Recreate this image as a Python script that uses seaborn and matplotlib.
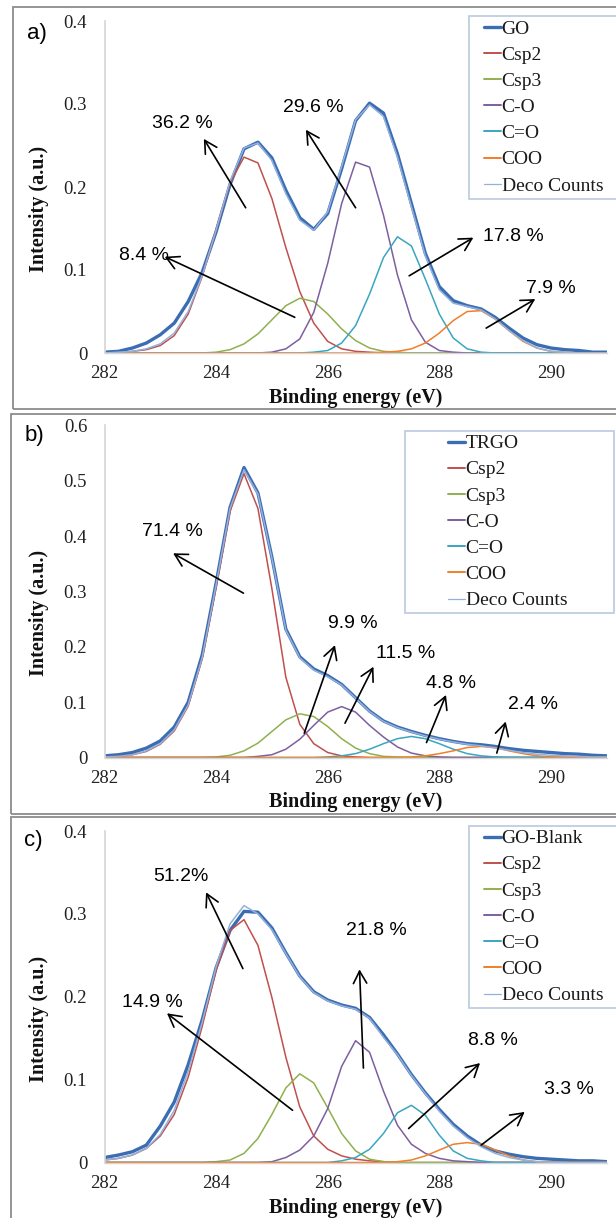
import numpy as np
import pandas as pd
import matplotlib
matplotlib.use("Agg")
import matplotlib.pyplot as plt
import seaborn as sns
from matplotlib.patches import Rectangle
from matplotlib.lines import Line2D

# ---------------- data ----------------
energy = np.arange(282.0, 291.001, 0.25)  # binding energy grid, eV (37 points)
x_ticks = [282, 284, 286, 288, 290]

# panel a) GO
go_a = [0.001, 0.002, 0.006, 0.012, 0.022, 0.036, 0.062, 0.097, 0.146, 0.203, 0.246, 0.254, 0.235,
        0.196, 0.163, 0.149, 0.168, 0.222, 0.280, 0.301, 0.289, 0.240, 0.180, 0.120, 0.080, 0.063,
        0.057, 0.053, 0.043, 0.030, 0.018, 0.010, 0.006, 0.004, 0.003, 0.001, 0.001]
deco_a = [0.000, 0.001, 0.002, 0.005, 0.011, 0.024, 0.050, 0.093, 0.148, 0.207, 0.247, 0.253, 0.232,
          0.192, 0.160, 0.148, 0.170, 0.225, 0.281, 0.299, 0.285, 0.236, 0.176, 0.117, 0.076, 0.060,
          0.056, 0.052, 0.041, 0.027, 0.015, 0.006, 0.002, 0.001, 0.000, 0.000, 0.000]
csp2_a = [0, 0, 0.002, 0.004, 0.009, 0.021, 0.047, 0.092, 0.149, 0.205, 0.236, 0.229, 0.186, 0.127,
          0.074, 0.036, 0.014, 0.005, 0.002, 0.001] + [0] * 17
csp3_a = [0] * 8 + [0.001, 0.004, 0.011, 0.023, 0.040, 0.057, 0.066, 0.062, 0.047, 0.029, 0.015,
                    0.006, 0.002, 0.001] + [0] * 15
co_a = [0] * 12 + [0.001, 0.005, 0.017, 0.049, 0.108, 0.180, 0.230, 0.224, 0.166, 0.094, 0.040,
                   0.013, 0.003, 0.001] + [0] * 11
cdo_a = [0] * 15 + [0.001, 0.003, 0.012, 0.033, 0.071, 0.115, 0.140, 0.129, 0.089, 0.047, 0.018,
                    0.005, 0.001] + [0] * 9
coo_a = [0] * 20 + [0.001, 0.002, 0.005, 0.012, 0.024, 0.039, 0.050, 0.051, 0.041, 0.027, 0.014,
                    0.006, 0.002, 0.001] + [0] * 3

# panel b) TRGO
go_b = [0.003, 0.005, 0.009, 0.017, 0.030, 0.055, 0.100, 0.185, 0.315, 0.452, 0.524, 0.478, 0.362,
        0.232, 0.182, 0.160, 0.148, 0.132, 0.108, 0.084, 0.066, 0.055, 0.047, 0.040, 0.034, 0.029,
        0.025, 0.023, 0.020, 0.016, 0.013, 0.011, 0.009, 0.007, 0.006, 0.004, 0.003]
deco_b = [0.001, 0.002, 0.005, 0.012, 0.025, 0.050, 0.095, 0.180, 0.312, 0.450, 0.520, 0.476, 0.360,
          0.230, 0.180, 0.158, 0.146, 0.131, 0.107, 0.083, 0.065, 0.054, 0.046, 0.039, 0.033, 0.028,
          0.024, 0.021, 0.017, 0.013, 0.009, 0.006, 0.004, 0.003, 0.002, 0.001, 0.001]
csp2_b = [0.001, 0.002, 0.005, 0.011, 0.024, 0.048, 0.093, 0.178, 0.308, 0.445, 0.513, 0.450, 0.305,
          0.145, 0.060, 0.025, 0.009, 0.003, 0.001] + [0] * 18
csp3_b = [0] * 8 + [0.001, 0.004, 0.012, 0.026, 0.047, 0.068, 0.079, 0.074, 0.056, 0.034, 0.017,
                    0.007, 0.002, 0.001] + [0] * 15
co_b = [0] * 11 + [0.002, 0.005, 0.015, 0.033, 0.058, 0.082, 0.092, 0.082, 0.058, 0.037, 0.019,
                   0.008, 0.003, 0.001] + [0] * 12
cdo_b = [0] * 16 + [0.001, 0.003, 0.007, 0.015, 0.025, 0.034, 0.038, 0.034, 0.025, 0.015, 0.007,
                    0.003, 0.001] + [0] * 8
coo_b = [0] * 22 + [0.001, 0.003, 0.007, 0.012, 0.018, 0.020, 0.018, 0.012, 0.007, 0.003,
                    0.001] + [0] * 4

# panel c) GO-Blank
go_c = [0.006, 0.009, 0.013, 0.021, 0.044, 0.073, 0.118, 0.172, 0.235, 0.280, 0.303, 0.302, 0.283,
        0.253, 0.225, 0.206, 0.196, 0.190, 0.186, 0.175, 0.154, 0.131, 0.106, 0.084, 0.064, 0.046,
        0.032, 0.021, 0.014, 0.010, 0.007, 0.005, 0.004, 0.003, 0.002, 0.002, 0.001]
deco_c = [0.003, 0.005, 0.009, 0.017, 0.034, 0.063, 0.110, 0.169, 0.236, 0.288, 0.310, 0.300, 0.281,
          0.252, 0.224, 0.205, 0.195, 0.189, 0.185, 0.174, 0.151, 0.130, 0.105, 0.083, 0.062, 0.044,
          0.030, 0.019, 0.011, 0.006, 0.003, 0.001, 0, 0, 0, 0, 0]
csp2_c = [0.003, 0.005, 0.009, 0.017, 0.032, 0.058, 0.103, 0.164, 0.232, 0.280, 0.293, 0.262, 0.199,
          0.127, 0.067, 0.032, 0.016, 0.008, 0.004, 0.002, 0.001] + [0] * 16
csp3_c = [0] * 8 + [0.001, 0.003, 0.011, 0.029, 0.058, 0.090, 0.107, 0.096, 0.066, 0.035, 0.014,
                    0.004, 0.001] + [0] * 16
co_c = [0] * 12 + [0.001, 0.006, 0.015, 0.032, 0.065, 0.116, 0.147, 0.133, 0.086, 0.045, 0.022,
                   0.011, 0.005, 0.002, 0.001] + [0] * 10
cdo_c = [0] * 17 + [0.002, 0.006, 0.016, 0.035, 0.060, 0.069, 0.057, 0.033, 0.014, 0.005,
                    0.002] + [0] * 9
coo_c = [0] * 21 + [0.001, 0.003, 0.008, 0.015, 0.022, 0.024, 0.022, 0.015, 0.008, 0.003,
                    0.001] + [0] * 5

component_names = ["Csp2", "Csp3", "C-O", "C=O", "COO"]

# annotations: percentage labels, label position, arrow tail, arrow head (data units)
pct_a = ["36.2 %", "8.4 %", "29.6 %", "17.8 %", "7.9 %"]
pct_a_txt = [(283.39, 0.277), (282.70, 0.118), (285.75, 0.296), (289.32, 0.140), (290.00, 0.078)]
pct_a_tail = [(284.53, 0.175), (285.41, 0.043), (286.50, 0.175), (287.46, 0.093), (288.84, 0.030)]
pct_a_head = [(283.78, 0.258), (283.08, 0.116), (285.61, 0.269), (288.61, 0.139), (289.72, 0.065)]

pct_b = ["71.4 %", "9.9 %", "11.5 %", "4.8 %", "2.4 %"]
pct_b_txt = [(283.21, 0.408), (286.45, 0.243), (287.40, 0.188), (288.21, 0.134), (289.68, 0.095)]
pct_b_tail = [(284.49, 0.297), (285.58, 0.044), (286.31, 0.062), (287.77, 0.027), (289.03, 0.008)]
pct_b_head = [(283.23, 0.369), (286.13, 0.203), (286.82, 0.164), (288.12, 0.113), (289.19, 0.065)]

pct_c = ["51.2%", "14.9 %", "21.8 %", "8.8 %", "3.3 %"]
pct_c_txt = [(283.37, 0.345), (282.85, 0.1935), (286.88, 0.280), (288.96, 0.147), (290.32, 0.088)]
pct_c_tail = [(284.48, 0.234), (285.37, 0.063), (286.64, 0.114), (287.45, 0.041), (288.75, 0.021)]
pct_c_head = [(283.82, 0.326), (283.12, 0.180), (286.57, 0.233), (288.73, 0.120), (289.53, 0.061)]

# ---------------- style ----------------
sns.set_theme(style="white")
plt.rcParams["font.family"] = ["Liberation Serif", "DejaVu Serif"]
SANS = ["Liberation Sans", "DejaVu Sans"]

colors = {"total": "#3b6db3", "Csp2": "#c0504d", "Csp3": "#8fb04f", "C-O": "#7d5fa0",
          "C=O": "#3aa5c0", "COO": "#f07f2a", "Deco Counts": "#93b1dc"}
widths = {"total": 2.4, "Csp2": 1.1, "Csp3": 1.1, "C-O": 1.1, "C=O": 1.1, "COO": 1.1,
          "Deco Counts": 1.1}

W, H = 616, 1218
fig = plt.figure(figsize=(W / 100, H / 100), dpi=100)


def fx(px):
    return px / W


def fy(py):
    return 1 - py / H


panels = [
    dict(tag="a)", total="GO", vals=[go_a, csp2_a, csp3_a, co_a, cdo_a, coo_a, deco_a], ymax=0.4,
         yticks=[0, 0.1, 0.2, 0.3, 0.4], top=21, bottom=353, frame=(12.7, 7, 409), label=(36.5, 33.5),
         box=(469, 16, 199), legx=484, pct=pct_a, txt=pct_a_txt, tail=pct_a_tail, head=pct_a_head),
    dict(tag="b)", total="TRGO", vals=[go_b, csp2_b, csp3_b, co_b, cdo_b, coo_b, deco_b], ymax=0.6,
         yticks=[0, 0.1, 0.2, 0.3, 0.4, 0.5, 0.6], top=425.5, bottom=757.5, frame=(11, 414, 814),
         label=(34, 435.5), box=(404.7, 430.7, 612.7), legx=448, pct=pct_b, txt=pct_b_txt,
         tail=pct_b_tail, head=pct_b_head, boxright=613.8),
    dict(tag="c)", total="GO-Blank", vals=[go_c, csp2_c, csp3_c, co_c, cdo_c, coo_c, deco_c],
         ymax=0.4, yticks=[0, 0.1, 0.2, 0.3, 0.4], top=831, bottom=1162.5, frame=(11, 817, 1240),
         label=(33.5, 840.5), box=(468.8, 825.7, 1007.7), legx=484, pct=pct_c, txt=pct_c_txt,
         tail=pct_c_tail, head=pct_c_head),
]

left_px, right_px = 104.5, 606.7

for p in panels:
    # panel frame
    fl, ft, fb = p["frame"]
    fig.add_artist(Rectangle((fx(fl), fy(fb)), 1.2, (fb - ft) / H, transform=fig.transFigure,
                             fill=False, ec="#8c8c8c", lw=1.3))
    ax = fig.add_axes([fx(left_px), fy(p["bottom"]), (right_px - left_px) / W,
                       (p["bottom"] - p["top"]) / H])
    ax.set_facecolor("none")

    keys = ["total"] + component_names + ["Deco Counts"]
    frames = []
    for k, v in zip(keys, p["vals"]):
        frames.append(pd.DataFrame({"energy": energy, "intensity": v, "series": k}))
    df = pd.concat(frames, ignore_index=True)
    sns.lineplot(data=df, x="energy", y="intensity", hue="series", size="series",
                 hue_order=keys, size_order=keys, palette=colors, sizes=widths,
                 legend=False, sort=False, estimator=None, ax=ax)

    ax.set_xlim(282, 291)
    ax.set_ylim(0, p["ymax"])
    ax.set_xticks(x_ticks)
    ax.set_xticklabels([str(t) for t in x_ticks])
    ax.set_yticks(p["yticks"])
    ax.set_yticklabels(["%g" % t for t in p["yticks"]])
    ax.tick_params(axis="both", length=0, labelsize=13.5, colors="#222222")
    ax.tick_params(axis="x", pad=9)
    ax.tick_params(axis="y", pad=12.5)
    for s in ["top", "right"]:
        ax.spines[s].set_visible(False)
    ax.spines["left"].set_color("#d6d6d6")
    ax.spines["bottom"].set_color("#d6d6d6")
    ax.spines["left"].set_linewidth(1.2)
    ax.spines["bottom"].set_linewidth(1.0)

    hpx = p["bottom"] - p["top"]
    ax.set_xlabel("Binding energy (eV)", fontsize=14.5, fontweight="bold", color="#111111")
    ax.xaxis.label.set_va("center")
    ax.xaxis.set_label_coords(0.5, -45.0 / hpx)
    ax.set_ylabel("Intensity (a.u.)", fontsize=14.5, fontweight="bold", color="#111111")
    ax.yaxis.label.set_va("center")
    ax.yaxis.set_label_coords((39 - left_px) / (right_px - left_px), 0.434)

    # annotations
    for lab, t, a0, a1 in zip(p["pct"], p["txt"], p["tail"], p["head"]):
        ax.annotate("", xy=a1, xytext=a0,
                    arrowprops=dict(arrowstyle="->,head_length=0.55,head_width=0.3",
                                    color="black", lw=1.2, shrinkA=0, shrinkB=0,
                                    mutation_scale=16))
        ax.text(t[0], t[1], lab, ha="center", va="center", fontsize=14, family=SANS,
                color="black")

    # legend box and legend (figure level, drawn above the axes)
    bl, bt, bb = p["box"]
    br = p.get("boxright", 640)
    fig.add_artist(Rectangle((fx(bl), fy(bb)), (br - bl) / W, (bb - bt) / H,
                             transform=fig.transFigure, fill=True, fc="white",
                             ec="#b9c9df", lw=1.2, zorder=3))
    labels = [p["total"]] + component_names + ["Deco Counts"]
    handles = [Line2D([], [], color=colors[k], lw=(2.4 if k == "total" else
                                                    (0.9 if k == "Deco Counts" else 1.4)))
               for k in keys]
    leg = fig.legend(handles, labels, loc="upper left",
                     bbox_to_anchor=(fx(p["legx"]), fy(bt + 4)),
                     bbox_transform=fig.transFigure, frameon=False, fontsize=14,
                     handlelength=0.85, handletextpad=0.05, labelspacing=0.44,
                     borderpad=0, borderaxespad=0)
    leg.set_zorder(5)
    for txt in leg.get_texts():
        txt.set_color("#1a1a1a")

    # panel tag
    lx, ly = p["label"]
    fig.text(fx(lx), fy(ly), p["tag"], ha="center", va="center", fontsize=16, family=SANS,
             color="black")

fig.savefig("out.png", dpi=100)
